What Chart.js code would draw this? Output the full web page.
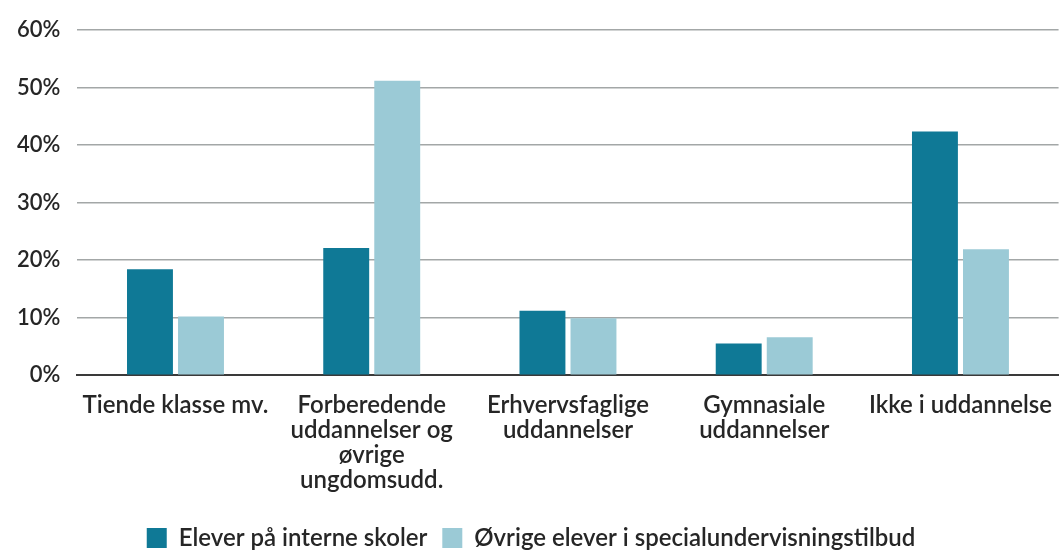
<!DOCTYPE html>
<html>
<head>
<meta charset="utf-8">
<script src="https://cdn.jsdelivr.net/npm/chart.js@4"></script>
<style>
    html, body { margin: 0; padding: 0; background: #fff; }
    #wrap { width: 1062px; height: 560px; }
</style>
</head>
<body>
<div id="wrap"><canvas id="barChart"></canvas></div>
<script>
// Categories (multi-line labels as in the original)
const categories = [
    ["Tiende klasse mv."],
    ["Forberedende", "uddannelser og", "øvrige", "ungdomsudd."],
    ["Erhvervsfaglige", "uddannelser"],
    ["Gymnasiale", "uddannelser"],
    ["Ikke i uddannelse"]
];

// Series values in percent
const interneSkoler = [18.4, 22.1, 11.2, 5.5, 42.4];
const oevrigeElever = [10.2, 51.2, 9.9, 6.6, 21.9];

const seriesNames = ["Elever på interne skoler", "Øvrige elever i specialundervisningstilbud"];
const yTicks = [0, 10, 20, 30, 40, 50, 60];

const textColor = "#262626";
const fontFamily = "Lato, 'Noto Sans', sans-serif";

Chart.defaults.font.family = fontFamily;
Chart.defaults.color = textColor;

new Chart("barChart", {
    type: "bar",
    data: {
        labels: categories,
        datasets: [
            {
                label: seriesNames[0],
                data: interneSkoler,
                backgroundColor: "#0f7996",
                categoryPercentage: 0.52,
                barPercentage: 0.9,
            },
            {
                label: seriesNames[1],
                data: oevrigeElever,
                backgroundColor: "#9bcad6",
                categoryPercentage: 0.52,
                barPercentage: 0.9,
            },
        ],
    },
    options: {
        responsive: true,
        maintainAspectRatio: false,
        animation: false,
        layout: { padding: { left: 0, right: 0, top: 15, bottom: 0 } },
        plugins: {
            tooltip: { enabled: false },
            legend: {
                position: "bottom",
                labels: {
                    boxWidth: 20,
                    boxHeight: 20,
                    padding: 15,
                    font: { size: 24, weight: 600 },
                    color: textColor,
                },
            },
        },
        scales: {
            x: {
                grid: { display: false },
                border: { display: true, color: "#3a3a3a", width: 2 },
                ticks: {
                    font: { size: 24, weight: 600, lineHeight: 1.04 },
                    color: textColor,
                    padding: 10,
                    maxRotation: 0,
                    autoSkip: false,
                },
                // a little room between the labels and the legend
                afterFit: (axis) => { axis.height += 8; },
            },
            y: {
                min: 0,
                max: 60,
                afterBuildTicks: (axis) => {
                    axis.ticks = yTicks.map((v) => ({ value: v }));
                },
                grid: {
                    color: "#a3a7a7",
                    lineWidth: 1.5,
                    drawTicks: false,
                },
                border: { display: false },
                ticks: {
                    font: { size: 22, weight: 600 },
                    color: textColor,
                    padding: 17,
                    callback: (value) => value + "%",
                },
            },
        },
    },
});
</script>
</body>
</html>
